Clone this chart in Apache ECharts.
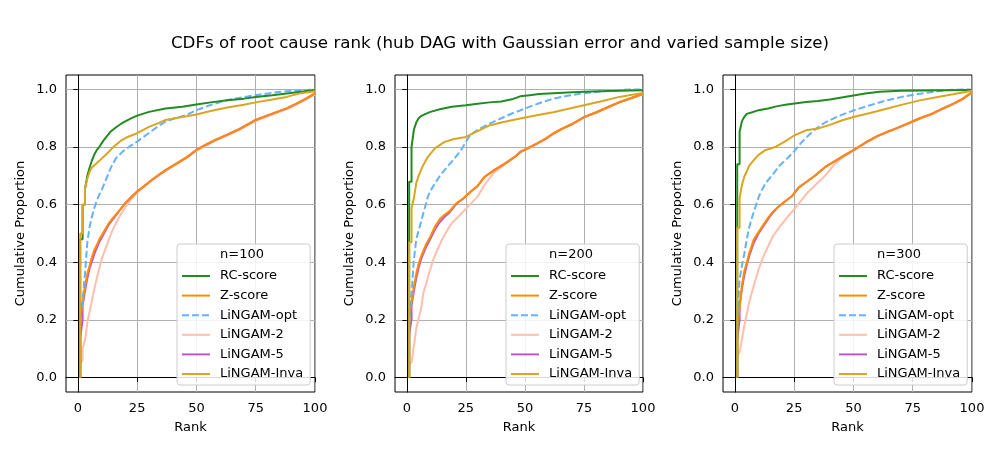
<!DOCTYPE html>
<html lang="en">
<head>
    <meta charset="UTF-8">
    <title>CDFs of root cause rank</title>
    <script src="https://cdn.jsdelivr.net/npm/echarts@6/dist/echarts.min.js"></script>
    <style>
        html, body { margin: 0; padding: 0; background: #fff; }
        #main { width: 1000px; height: 450px; }
    </style>
</head>
<body>
<div id="main"></div>
<script>
    // chart text
    var chartTitle = 'CDFs of root cause rank (hub DAG with Gaussian error and varied sample size)';
    var panelNames = ['n=100', 'n=200', 'n=300'];
    var methodNames = ['RC-score', 'Z-score', 'LiNGAM-opt', 'LiNGAM-2', 'LiNGAM-5', 'LiNGAM-Inva'];
    var xTicks = [0, 25, 50, 75, 100];
    var yTicks = [0, 0.2, 0.4, 0.6, 0.8, 1.0];

    // n=100, [rank, cumulative proportion]
    var rc100 = [[1,0],[1,0.48],[2,0.48],[2,0.60],[3,0.60],[3,0.655],[4,0.70],[5,0.73],[6,0.755],[7,0.775],[8,0.79],[9,0.80],[11,0.825],[14,0.855],[16,0.868],[19,0.885],[22,0.898],[25,0.909],[30,0.922],[37,0.934],[44,0.94],[50,0.948],[56,0.955],[63,0.962],[70,0.968],[75,0.974],[82,0.98],[88,0.986],[95,0.993],[100,0.998]];
    var z100 = [[1,0],[1,0.2],[2,0.26],[3,0.317],[4,0.36],[5,0.39],[6,0.42],[7,0.444],[8,0.46],[9,0.479],[11,0.507],[13,0.535],[15,0.556],[17,0.575],[20,0.605],[23,0.63],[25,0.646],[28,0.665],[31,0.685],[34,0.703],[37,0.72],[41,0.74],[46,0.765],[50,0.79],[54,0.808],[58,0.825],[63,0.843],[68,0.862],[72,0.88],[75,0.894],[80,0.91],[84,0.922],[88,0.934],[92,0.95],[96,0.967],[100,0.986]];
    var opt100 = [[1,0],[1,0.2],[2,0.27],[3,0.36],[4,0.47],[5,0.525],[6,0.56],[7,0.59],[8,0.615],[9,0.634],[10,0.65],[12,0.69],[14,0.73],[16,0.76],[19,0.785],[22,0.803],[25,0.819],[28,0.837],[31,0.855],[34,0.873],[37,0.888],[41,0.9],[46,0.912],[50,0.928],[56,0.946],[63,0.963],[69,0.972],[75,0.98],[82,0.988],[88,0.994],[100,1.0]];
    var l2_100 = [[1,0],[1,0.05],[2,0.06],[2,0.1],[3,0.13],[4,0.19],[5,0.23],[6,0.27],[7,0.31],[8,0.345],[10,0.41],[12,0.455],[14,0.5],[16,0.535],[18,0.565],[20,0.59],[22,0.615],[25,0.642],[28,0.662],[31,0.682],[34,0.7],[37,0.717],[41,0.737],[46,0.762],[50,0.787],[54,0.805],[58,0.822],[63,0.84],[68,0.859],[72,0.877],[75,0.891],[80,0.907],[84,0.919],[88,0.931],[92,0.947],[96,0.964],[100,0.983]];
    var l5_100 = [[1,0],[1,0.14],[2,0.2],[2,0.25],[3,0.3],[4,0.345],[5,0.38],[6,0.405],[7,0.43],[8,0.45],[9,0.47],[11,0.5],[13,0.53],[15,0.552],[17,0.573],[20,0.605],[23,0.63],[25,0.646],[28,0.665],[31,0.685],[34,0.703],[37,0.72],[41,0.74],[46,0.765],[50,0.79],[54,0.808],[58,0.825],[63,0.843],[68,0.862],[72,0.88],[75,0.894],[80,0.91],[84,0.922],[88,0.934],[92,0.95],[96,0.967],[100,0.986]];
    var inva100 = [[1,0],[1,0.50],[2,0.50],[2,0.60],[3,0.60],[3,0.655],[4,0.69],[5,0.715],[6,0.73],[8,0.745],[9,0.752],[12,0.775],[15,0.8],[18,0.821],[21,0.835],[25,0.848],[30,0.87],[34,0.883],[37,0.894],[44,0.904],[50,0.913],[56,0.925],[63,0.937],[70,0.947],[75,0.955],[82,0.965],[88,0.974],[94,0.987],[100,0.994]];

    // n=200
    var rc200 = [[1,0],[1,0.68],[2,0.68],[2,0.80],[3,0.86],[4,0.885],[5,0.9],[6,0.907],[8,0.915],[10,0.922],[14,0.931],[19,0.94],[25,0.945],[30,0.95],[35,0.955],[40,0.958],[45,0.967],[48,0.976],[52,0.98],[56,0.984],[62,0.987],[70,0.99],[78,0.993],[90,0.995],[100,0.997]];
    var z200 = [[1,0],[1,0.2],[2,0.26],[3,0.317],[4,0.36],[5,0.395],[6,0.42],[7,0.44],[8,0.46],[10,0.49],[12,0.525],[14,0.55],[16,0.565],[18,0.577],[21,0.605],[24,0.622],[27,0.645],[30,0.665],[33,0.697],[37,0.72],[42,0.745],[46,0.768],[48,0.783],[51,0.795],[55,0.812],[59,0.83],[62,0.847],[66,0.865],[70,0.88],[75,0.904],[80,0.92],[85,0.938],[90,0.956],[95,0.97],[100,0.985]];
    var opt200 = [[1,0],[1,0.2],[2,0.29],[3,0.41],[4,0.48],[5,0.51],[6,0.54],[7,0.571],[8,0.6],[9,0.63],[10,0.648],[12,0.675],[14,0.7],[16,0.72],[18,0.74],[20,0.758],[23,0.79],[25,0.818],[27,0.843],[30,0.86],[35,0.881],[40,0.9],[45,0.918],[48,0.927],[51,0.937],[56,0.952],[62,0.968],[68,0.978],[75,0.987],[85,0.995],[94,1.0],[100,1.0]];
    var l2_200 = [[1,0],[1,0.05],[2,0.052],[3,0.11],[4,0.17],[5,0.205],[6,0.236],[7,0.294],[8,0.32],[9,0.35],[11,0.405],[13,0.445],[15,0.48],[17,0.51],[19,0.535],[22,0.56],[26,0.594],[30,0.628],[33,0.67],[37,0.712],[42,0.743],[46,0.766],[48,0.781],[51,0.793],[55,0.81],[59,0.828],[62,0.845],[66,0.863],[70,0.878],[75,0.902],[80,0.918],[85,0.936],[90,0.954],[95,0.968],[100,0.983]];
    var l5_200 = [[1,0],[1,0.15],[2,0.2],[2,0.25],[3,0.3],[4,0.345],[5,0.38],[6,0.41],[7,0.43],[8,0.45],[10,0.482],[12,0.515],[14,0.54],[16,0.558],[18,0.572],[21,0.603],[24,0.622],[27,0.645],[30,0.665],[33,0.697],[37,0.72],[42,0.745],[46,0.768],[48,0.783],[51,0.795],[55,0.812],[59,0.83],[62,0.847],[66,0.865],[70,0.88],[75,0.904],[80,0.92],[85,0.938],[90,0.956],[95,0.97],[100,0.985]];
    var inva200 = [[1,0],[1,0.47],[2,0.47],[2,0.588],[3,0.623],[4,0.675],[5,0.70],[6,0.72],[7,0.738],[9,0.767],[12,0.796],[16,0.818],[20,0.828],[25,0.835],[30,0.855],[35,0.875],[40,0.885],[48,0.899],[55,0.91],[62,0.921],[68,0.932],[75,0.945],[82,0.958],[90,0.974],[100,0.988]];

    // n=300
    var rc300 = [[1,0],[1,0.74],[2,0.74],[2,0.853],[3,0.89],[4,0.905],[5,0.915],[7,0.92],[10,0.928],[14,0.934],[18,0.942],[22,0.948],[26,0.952],[30,0.956],[35,0.96],[40,0.965],[45,0.972],[50,0.979],[55,0.986],[61,0.992],[70,0.995],[80,0.996],[100,0.998]];
    var z300 = [[1,0],[1,0.18],[2,0.24],[3,0.32],[4,0.37],[5,0.398],[6,0.43],[7,0.455],[8,0.48],[10,0.505],[12,0.53],[14,0.554],[16,0.575],[18,0.59],[21,0.61],[24,0.629],[27,0.66],[30,0.678],[34,0.702],[38,0.73],[42,0.75],[46,0.77],[50,0.789],[55,0.815],[60,0.838],[64,0.852],[68,0.865],[73,0.882],[78,0.9],[83,0.915],[88,0.935],[92,0.95],[96,0.967],[100,0.99]];
    var opt300 = [[1,0],[1,0.2],[2,0.34],[3,0.39],[4,0.43],[5,0.479],[6,0.52],[7,0.55],[8,0.575],[9,0.6],[10,0.625],[11,0.645],[13,0.675],[16,0.705],[19,0.737],[22,0.76],[25,0.785],[28,0.815],[31,0.84],[34,0.862],[38,0.885],[43,0.905],[50,0.927],[57,0.945],[64,0.962],[71,0.975],[78,0.985],[85,0.993],[90,0.998],[100,1.0]];
    var l2_300 = [[1,0],[1,0.075],[2,0.09],[3,0.133],[4,0.18],[5,0.22],[6,0.26],[7,0.29],[8,0.32],[10,0.375],[12,0.42],[14,0.455],[16,0.49],[19,0.525],[22,0.555],[26,0.594],[30,0.636],[34,0.668],[38,0.7],[42,0.74],[46,0.768],[50,0.787],[55,0.813],[60,0.836],[64,0.85],[68,0.863],[73,0.88],[78,0.898],[83,0.913],[88,0.933],[92,0.948],[96,0.965],[100,0.988]];
    var l5_300 = [[1,0],[1,0.13],[2,0.2],[2,0.25],[3,0.31],[4,0.355],[5,0.39],[6,0.42],[7,0.445],[8,0.468],[10,0.5],[12,0.525],[14,0.55],[16,0.572],[18,0.59],[21,0.61],[24,0.629],[27,0.66],[30,0.678],[34,0.702],[38,0.73],[42,0.75],[46,0.77],[50,0.789],[55,0.815],[60,0.838],[64,0.852],[68,0.865],[73,0.882],[78,0.9],[83,0.915],[88,0.935],[92,0.95],[96,0.967],[100,0.99]];
    var inva300 = [[1,0],[1,0.52],[2,0.52],[2,0.623],[3,0.669],[4,0.698],[5,0.715],[6,0.735],[8,0.755],[10,0.773],[13,0.79],[17,0.80],[21,0.819],[25,0.84],[30,0.858],[35,0.864],[40,0.877],[45,0.892],[50,0.904],[57,0.918],[64,0.933],[71,0.948],[78,0.962],[85,0.973],[92,0.983],[100,0.995]];

    var panelData = [
        [rc100, z100, opt100, l2_100, l5_100, inva100],
        [rc200, z200, opt200, l2_200, l5_200, inva200],
        [rc300, z300, opt300, l2_300, l5_300, inva300]
    ];

    var colors = ['#228b22', '#ff8c00', '#66b2ff', '#ffbfac', '#bf55d3', '#daa520'];
    var lineTypes = ['solid', 'solid', [7, 3], 'solid', 'solid', 'solid'];
    // drawing order, later on top
    var drawOrder = [3, 4, 1, 2, 0, 5];

    var font = 'DejaVu Sans';
    var gridLefts = [66, 395, 723];
    var gridWidths = [249, 248, 249];

    var grids = [], xAxes = [], yAxes = [], series = [], legends = [], titles = [];

    titles.push({
        text: chartTitle,
        left: 500,
        top: 35,
        textAlign: 'center',
        padding: 0,
        textStyle: {fontFamily: font, fontSize: 16.7, fontWeight: 'normal', color: '#000'}
    });

    for (var p = 0; p < 3; p++) {
        grids.push({
            left: gridLefts[p], top: 75, width: gridWidths[p], height: 317,
            show: true, borderColor: '#000', borderWidth: 1, backgroundColor: 'transparent'
        });
        xAxes.push({
            type: 'value', gridIndex: p, min: -5, max: 100,
            name: 'Rank', nameLocation: 'middle', nameGap: 29,
            nameTextStyle: {fontFamily: font, fontSize: 13, color: '#000'},
            axisLine: {show: true, lineStyle: {color: '#000', width: 1}},
            axisTick: {show: true, inside: false, length: 4.5, customValues: xTicks, lineStyle: {color: '#000'}},
            axisLabel: {customValues: xTicks, margin: 10, fontFamily: font, fontSize: 13, color: '#000'},
            splitLine: {show: true, lineStyle: {color: '#b0b0b0', width: 1}}
        });
        yAxes.push({
            type: 'value', gridIndex: p, min: -0.05, max: 1.05,
            name: 'Cumulative Proportion', nameLocation: 'middle', nameGap: 39,
            nameTextStyle: {fontFamily: font, fontSize: 13, color: '#000'},
            axisLine: {show: true, lineStyle: {color: '#000', width: 1}},
            axisTick: {show: true, inside: false, length: 4.5, customValues: yTicks, lineStyle: {color: '#000'}},
            axisLabel: {
                customValues: yTicks, margin: 9, fontFamily: font, fontSize: 13, color: '#000',
                formatter: function (v) { return v.toFixed(1); }
            },
            splitLine: {show: true, lineStyle: {color: '#b0b0b0', width: 1}}
        });
        for (var k = 0; k < drawOrder.length; k++) {
            var m = drawOrder[k];
            series.push({
                name: methodNames[m],
                type: 'line',
                xAxisIndex: p,
                yAxisIndex: p,
                data: panelData[p][m],
                symbol: 'none',
                showSymbol: false,
                color: colors[m],
                itemStyle: {color: colors[m], opacity: 0},
                lineStyle: {color: colors[m], width: 2, type: lineTypes[m], opacity: 1},
                z: 2 + k
            });
        }
        var legLeft = 177 + (gridLefts[p] - 66);
        legends.push({
            data: methodNames.slice(),
            orient: 'vertical',
            left: legLeft,
            top: 244,
            padding: [25, 7, 4, 4],
            itemWidth: 28,
            itemHeight: 14,
            itemGap: 5.6,
            selectedMode: false,
            itemStyle: {opacity: 0},
            backgroundColor: 'rgba(255,255,255,0.85)',
            borderColor: '#cccccc',
            borderWidth: 1,
            borderRadius: 3,
            textStyle: {fontFamily: font, fontSize: 13, color: '#000', lineHeight: 14, padding: [0, 0, 0, 5]}
        });
        titles.push({
            text: panelNames[p],
            left: legLeft + 65,
            top: 248,
            textAlign: 'center',
            padding: 0,
            textStyle: {fontFamily: font, fontSize: 13, fontWeight: 'normal', color: '#000'}
        });
    }

    var myChart = echarts.init(document.getElementById('main'), null, {renderer: 'canvas'});
    var option = {
        animation: false,
        backgroundColor: '#fff',
        title: titles,
        legend: legends,
        grid: grids,
        xAxis: xAxes,
        yAxis: yAxes,
        series: series
    };
    myChart.setOption(option);
</script>
</body>
</html>
